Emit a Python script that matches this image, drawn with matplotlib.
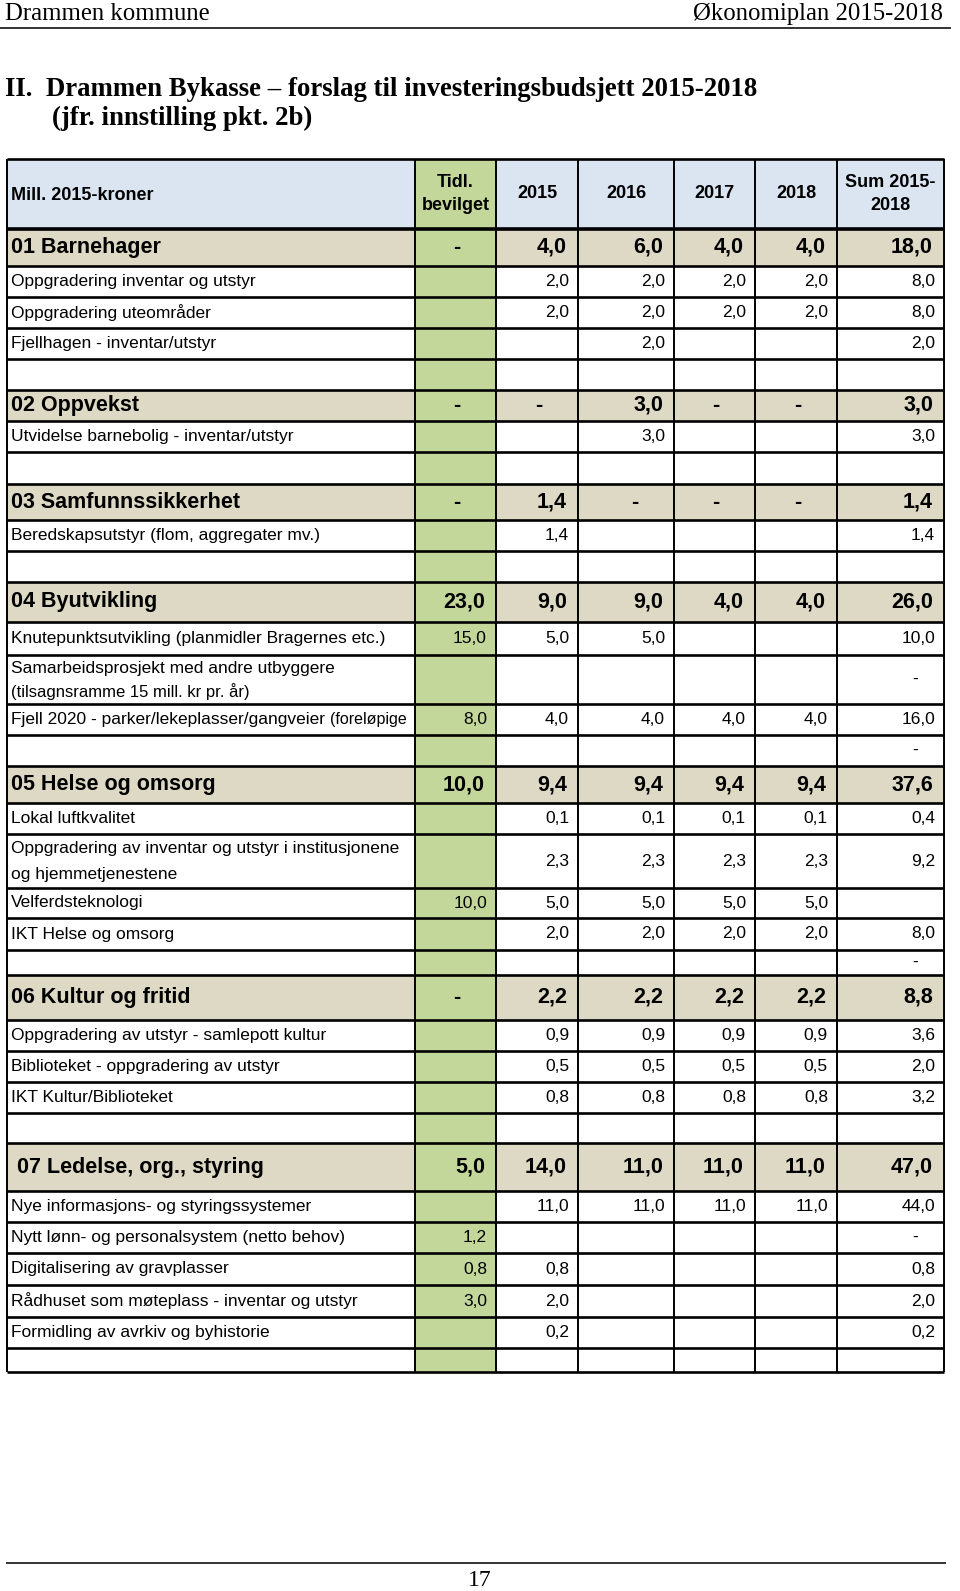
import numpy as np
import matplotlib.pyplot as plt
from matplotlib.patches import Rectangle
from matplotlib import font_manager

# ---------------------------------
# DATA
# ---------------------------------
col_headers = ["Mill. 2015-kroner", "Tidl.\nbevilget", "2015", "2016", "2017", "2018", "Sum 2015-\n2018"]

labels = [
    "01 Barnehager",
    "Oppgradering inventar og utstyr",
    "Oppgradering uteområder",
    "Fjellhagen - inventar/utstyr",
    "",
    "02 Oppvekst",
    "Utvidelse barnebolig - inventar/utstyr",
    "",
    "03 Samfunnssikkerhet",
    "Beredskapsutstyr (flom, aggregater mv.)",
    "",
    "04 Byutvikling",
    "Knutepunktsutvikling (planmidler Bragernes etc.)",
    "Samarbeidsprosjekt med andre utbyggere\n(tilsagnsramme 15 mill. kr pr. år)",
    "Fjell 2020 - parker/lekeplasser/gangveier |(foreløpige",
    "",
    "05 Helse og omsorg",
    "Lokal luftkvalitet",
    "Oppgradering av inventar og utstyr i institusjonene\nog hjemmetjenestene",
    "Velferdsteknologi",
    "IKT Helse og omsorg",
    "",
    "06 Kultur og fritid",
    "Oppgradering av utstyr - samlepott kultur",
    "Biblioteket - oppgradering av utstyr",
    "IKT Kultur/Biblioteket",
    "",
    " 07 Ledelse, org., styring",
    "Nye informasjons- og styringssystemer",
    "Nytt lønn- og personalsystem (netto behov)",
    "Digitalisering av gravplasser",
    "Rådhuset som møteplass - inventar og utstyr",
    "Formidling av avrkiv og byhistorie",
    "",
]

# 's' = sektor, 'i' = tiltak, 'b' = tom rad
kinds = list("siiibsibsibsiiibsiiiibsiiibsiiiiib")

# None = tom celle, 0 = "-"
tidl = [0, None, None, None, None, 0, None, None, 0, None, None, 23.0, 15.0, None, 8.0, None,
        10.0, None, None, 10.0, None, None, 0, None, None, None, None, 5.0, None, 1.2, 0.8, 3.0, None, None]
y2015 = [4.0, 2.0, 2.0, None, None, 0, None, None, 1.4, 1.4, None, 9.0, 5.0, None, 4.0, None,
         9.4, 0.1, 2.3, 5.0, 2.0, None, 2.2, 0.9, 0.5, 0.8, None, 14.0, 11.0, None, 0.8, 2.0, 0.2, None]
y2016 = [6.0, 2.0, 2.0, 2.0, None, 3.0, 3.0, None, 0, None, None, 9.0, 5.0, None, 4.0, None,
         9.4, 0.1, 2.3, 5.0, 2.0, None, 2.2, 0.9, 0.5, 0.8, None, 11.0, 11.0, None, None, None, None, None]
y2017 = [4.0, 2.0, 2.0, None, None, 0, None, None, 0, None, None, 4.0, None, None, 4.0, None,
         9.4, 0.1, 2.3, 5.0, 2.0, None, 2.2, 0.9, 0.5, 0.8, None, 11.0, 11.0, None, None, None, None, None]
y2018 = [4.0, 2.0, 2.0, None, None, 0, None, None, 0, None, None, 4.0, None, None, 4.0, None,
         9.4, 0.1, 2.3, 5.0, 2.0, None, 2.2, 0.9, 0.5, 0.8, None, 11.0, 11.0, None, None, None, None, None]
sum_1518 = [18.0, 8.0, 8.0, 2.0, None, 3.0, 3.0, None, 1.4, 1.4, None, 26.0, 10.0, 0, 16.0, 0,
            37.6, 0.4, 9.2, None, 8.0, 0, 8.8, 3.6, 2.0, 3.2, None, 47.0, 44.0, 0, 0.8, 2.0, 0.2, None]

# ---------------------------------
# LAYOUT
# ---------------------------------
W, H = 960, 1591
col_x = [7, 415, 496, 578, 674, 755, 837, 944]
head_top, head_bot = 159, 229
row_y = [229, 266, 297, 328, 359, 390, 421, 452, 484, 520, 551, 582, 622, 655, 704, 735, 766, 803,
         834, 888, 918, 950, 975, 1020, 1051, 1082, 1113, 1143, 1191, 1222, 1253, 1285, 1317, 1348, 1372]

BLUE = "#dbe5f1"
GREEN = "#c4d79b"
BEIGE = "#ddd9c4"

names = {f.name for f in font_manager.fontManager.ttflist}
NARROW = "Liberation Sans Narrow" if "Liberation Sans Narrow" in names else "Liberation Sans"
SERIF = "Liberation Serif"
ITEM = 12.5
SECT = 15.5


def fmt(v):
    if v is None:
        return ""
    if v == 0:
        return "-"
    return f"{v:.1f}".replace(".", ",")


fig = plt.figure(figsize=(W / 100, H / 100), dpi=100)
ax = fig.add_axes([0, 0, 1, 1])
ax.set_xlim(0, W)
ax.set_ylim(H, 0)
ax.axis("off")

# page header / footer
ax.text(5, 14, "Drammen kommune", family=SERIF, fontsize=17.8, ha="left", va="center")
ax.text(943, 14, "Økonomiplan 2015-2018", family=SERIF, fontsize=17.8, ha="right", va="center")
ax.plot([0, 950], [28, 28], color="#333333", lw=1.4)
ax.text(5, 89, "II.  Drammen Bykasse – forslag til investeringsbudsjett 2015-2018",
        family=SERIF, fontsize=19.3, fontweight="bold", ha="left", va="center")
ax.text(52, 118, "(jfr. innstilling pkt. 2b)", family=SERIF, fontsize=19.3, fontweight="bold",
        ha="left", va="center")
ax.plot([7, 945], [1563, 1563], color="#333333", lw=1.4)
ax.text(480, 1581, "17", family=SERIF, fontsize=17, ha="center", va="center")

# header row
ax.add_patch(Rectangle((col_x[0], head_top), col_x[-1] - col_x[0], head_bot - head_top, color=BLUE, lw=0))
ax.add_patch(Rectangle((col_x[1], head_top), col_x[2] - col_x[1], head_bot - head_top, color=GREEN, lw=0))
hy = (head_top + head_bot) / 2
ax.text(col_x[0] + 4, hy + 1, col_headers[0], family=NARROW, fontsize=13, fontweight="bold",
        ha="left", va="center")
for j in range(1, 7):
    ax.text((col_x[j] + col_x[j + 1]) / 2, hy, col_headers[j], family=NARROW, fontsize=13,
            fontweight="bold", ha="center", va="center", linespacing=1.45)

# body
columns = [tidl, y2015, y2016, y2017, y2018, sum_1518]
for i, lab in enumerate(labels):
    top, bot = row_y[i], row_y[i + 1]
    cy = (top + bot) / 2
    kind = kinds[i]
    if kind == "s":
        ax.add_patch(Rectangle((col_x[0], top), col_x[-1] - col_x[0], bot - top, color=BEIGE, lw=0))
    ax.add_patch(Rectangle((col_x[1], top), col_x[2] - col_x[1], bot - top, color=GREEN, lw=0))

    size = SECT if kind == "s" else ITEM
    weight = "bold" if kind == "s" else "normal"
    if "|" in lab:
        main, rest = lab.split("|")
        t1 = ax.text(col_x[0] + 4, cy, main, family=NARROW, fontsize=size, ha="left", va="center")
        t2 = ax.annotate(rest, xy=(1, 0), xycoords=t1, family=NARROW, fontsize=11.5, ha="left",
                         va="bottom", annotation_clip=False)
        clip = Rectangle((col_x[0], top), col_x[1] - col_x[0] - 2, bot - top, transform=ax.transData)
        t2.set_clip_path(clip)
    elif "\n" in lab:
        l1, l2 = lab.split("\n")
        s2 = 12 if l2.startswith("(") else ITEM
        ax.text(col_x[0] + 4, top + (bot - top) * 0.27, l1, family=NARROW, fontsize=ITEM,
                ha="left", va="center")
        ax.text(col_x[0] + 4, top + (bot - top) * 0.75, l2, family=NARROW, fontsize=s2,
                ha="left", va="center")
    else:
        ax.text(col_x[0] + 4, cy, lab, family=NARROW, fontsize=size, fontweight=weight,
                ha="left", va="center")

    for j, col in enumerate(columns):
        s = fmt(col[i])
        if not s:
            continue
        right = col_x[j + 2]
        if s == "-":
            ax.text(right - (39 if kind == "s" else 29), cy, s, family=NARROW, fontsize=size,
                    fontweight=weight, ha="center", va="center")
        else:
            pad = 11 if kind == "s" else 9
            ax.text(right - pad, cy, s, family=NARROW, fontsize=size, fontweight=weight,
                    ha="right", va="center")

# grid lines
for y in [head_top] + row_y:
    lw = 2.6 if y == head_bot else 1.9
    ax.plot([col_x[0], col_x[-1]], [y, y], color="black", lw=lw, solid_capstyle="butt")
for x in col_x:
    ax.plot([x, x], [head_top, row_y[-1]], color="black", lw=1.4, solid_capstyle="butt")

fig.savefig("out.png", dpi=100)
